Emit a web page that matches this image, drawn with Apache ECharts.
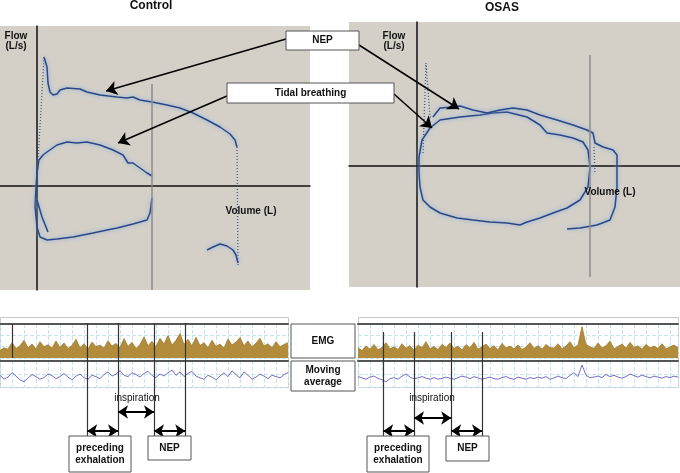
<!DOCTYPE html>
<html>
<head>
<meta charset="utf-8">
<script src="https://cdn.jsdelivr.net/npm/echarts@6/dist/echarts.min.js"></script>
<style>html,body{margin:0;background:#fff}#main{width:680px;height:473px}</style>
</head>
<body>
<div id="main"></div>
<script>
// flow-volume loops, points are [volume (L), flow (L/s)]
var controlTidalTop = [[-0.01,-0.01],[0,0.13],[0.02,0.26],[0.06,0.31],[0.10,0.34],[0.20,0.41],[0.30,0.44],[0.40,0.43],[0.50,0.44],[0.63,0.41],[0.76,0.36],[0.86,0.31],[0.91,0.23],[0.96,0.23],[1.03,0.18],[1.10,0.13],[1.15,0.10]];
var controlTidalBottom = [[1.15,-0.12],[1.13,-0.27],[1.10,-0.34],[0.96,-0.38],[0.80,-0.42],[0.70,-0.44],[0.56,-0.47],[0.36,-0.51],[0.20,-0.53],[0.10,-0.54],[0.03,-0.51],[0,-0.41],[-0.02,-0.21],[-0.01,-0.01]];
var controlExpTail = [[0,-0.14],[0.05,-0.31],[0.11,-0.46]];
var controlNep = [[0.07,1.29],[0.10,1.19],[0.11,1.03],[0.13,0.94],[0.16,0.91],[0.20,0.92],[0.23,0.96],[0.30,0.98],[0.43,0.97],[0.50,0.94],[0.63,0.91],[0.80,0.89],[0.90,0.88],[0.96,0.89],[1.03,0.86],[1.15,0.84],[1.30,0.81],[1.43,0.78],[1.56,0.73],[1.70,0.66],[1.83,0.59],[1.93,0.52],[1.98,0.46],[2.00,0.39]];
var controlNepRise = [[0.01,0.26],[0.04,0.76],[0.07,1.29]];
var controlNepFall = [[2.00,0.39],[2.01,-0.80]];
var controlNepEnd = [[1.70,-0.64],[1.76,-0.61],[1.83,-0.58],[1.90,-0.60],[1.96,-0.64],[1.99,-0.69],[2.01,-0.77]];
var controlTidalEnd = 1.15;

var osasTidal = [[0.02,0.09],[0.05,0.26],[0.13,0.38],[0.23,0.46],[0.43,0.49],[0.63,0.51],[0.76,0.53],[0.90,0.54],[1.10,0.49],[1.23,0.41],[1.30,0.33],[1.43,0.31],[1.56,0.28],[1.66,0.24],[1.71,0.16],[1.73,-0.01],[1.71,-0.21],[1.63,-0.34],[1.50,-0.42],[1.36,-0.47],[1.23,-0.52],[1.10,-0.56],[1.03,-0.59],[0.90,-0.57],[0.73,-0.56],[0.56,-0.54],[0.40,-0.52],[0.23,-0.47],[0.13,-0.41],[0.06,-0.34],[0.03,-0.21],[0.02,-0.07],[0.02,0.09]];
var osasNep = [[0.16,0.49],[0.23,0.58],[0.36,0.59],[0.43,0.60],[0.56,0.56],[0.70,0.53],[0.83,0.56],[0.96,0.58],[1.10,0.56],[1.23,0.51],[1.40,0.46],[1.56,0.41],[1.70,0.36],[1.76,0.33],[1.78,0.23],[1.86,0.19],[1.96,0.16],[2.00,0.11],[2.00,-0.01],[2.00,-0.21],[1.98,-0.41],[1.93,-0.54],[1.80,-0.59],[1.63,-0.62],[1.50,-0.63]];
var osasNepRise = [[0.06,0.13],[0.09,1.03],[0.11,1.01],[0.13,0.49],[0.16,0.49]];
var osasNepDots = [[1.77,0.19],[1.78,-0.07]];
var osasTidalEnd = 1.73;

// EMG strips, one sample every 0.1 s
var sampleStep = 0.1;
var controlEmg = [
  0.22,0.30,0.26,0.45,0.28,0.36,0.52,0.30,0.41,0.27,
  0.48,0.33,0.39,0.29,0.50,0.31,0.44,0.28,0.37,0.55,
  0.30,0.42,0.26,0.47,0.33,0.38,0.29,0.51,0.35,0.43,
  0.30,0.57,0.34,0.46,0.28,0.40,0.62,0.36,0.49,0.33,
  0.58,0.41,0.66,0.38,0.52,0.72,0.40,0.55,0.35,0.61,
  0.37,0.45,0.30,0.52,0.34,0.41,0.29,0.56,0.38,0.47,
  0.60,0.36,0.50,0.32,0.44,0.58,0.35,0.42,0.30,0.48,
  0.33,0.40,0.45];
var controlAvg = [
  0.45,0.30,0.38,0.55,0.42,0.28,0.20,0.35,0.48,0.40,
  0.30,0.36,0.50,0.44,0.32,0.40,0.52,0.38,0.28,0.42,
  0.50,0.36,0.30,0.45,0.40,0.32,0.48,0.58,0.42,0.50,
  0.62,0.45,0.40,0.55,0.48,0.38,0.52,0.60,0.44,0.36,
  0.50,0.42,0.55,0.65,0.45,0.58,0.40,0.52,0.60,0.42,
  0.35,0.30,0.45,0.38,0.28,0.42,0.55,0.40,0.62,0.48,
  0.35,0.58,0.45,0.30,0.38,0.50,0.42,0.32,0.45,0.40,
  0.35,0.48,0.55];
var osasEmg = [
  0.30,0.22,0.35,0.26,0.40,0.24,0.31,0.45,0.27,0.33,
  0.25,0.42,0.29,0.36,0.23,0.38,0.30,0.48,0.27,0.34,
  0.25,0.40,0.31,0.44,0.28,0.35,0.24,0.39,0.30,0.46,
  0.26,0.33,0.41,0.28,0.36,0.24,0.43,0.30,0.35,0.27,
  0.38,0.25,0.32,0.45,0.28,0.36,0.26,0.40,0.31,0.29,
  0.42,0.27,0.35,0.48,0.30,0.38,0.92,0.40,0.33,0.28,
  0.44,0.30,0.36,0.50,0.27,0.34,0.41,0.29,0.46,0.31,
  0.36,0.26,0.40,0.30,0.35,0.28,0.42,0.27,0.33,0.38,
  0.30];
var osasAvg = [
  0.40,0.35,0.30,0.38,0.42,0.33,0.28,0.20,0.32,0.36,
  0.30,0.42,0.50,0.38,0.32,0.35,0.40,0.34,0.30,0.36,
  0.30,0.33,0.38,0.34,0.30,0.36,0.42,0.38,0.32,0.40,
  0.35,0.30,0.34,0.38,0.32,0.30,0.36,0.40,0.33,0.30,
  0.38,0.34,0.30,0.36,0.32,0.38,0.34,0.40,0.30,0.35,
  0.42,0.36,0.32,0.45,0.55,0.40,0.85,0.45,0.36,0.38,
  0.42,0.36,0.48,0.40,0.45,0.38,0.34,0.40,0.50,0.44,
  0.38,0.46,0.40,0.35,0.42,0.38,0.34,0.40,0.36,0.42,
  0.38];

// event times (s): start exhalation, start inspiration, start NEP, end NEP
var controlEvents = [2.18, 2.95, 3.85, 4.63];
var controlMarker = 0.3;
var osasEvents = [0.63, 1.4, 2.33, 3.1];

var chart = echarts.init(document.getElementById('main'));
var FONT = '"Liberation Sans", Arial, sans-serif';
var GRIDC = '#c6e4ec';

function toXY(arr) {
  return arr.map(function (v, i) { return [i * sampleStep, v]; });
}

function loopAxis(gi, min, max) {
  return {
    gridIndex: gi, type: 'value', min: min, max: max,
    axisLine: { onZero: true, lineStyle: { color: '#111', width: 1.5 } },
    axisTick: { show: false }, axisLabel: { show: false }, splitLine: { show: false }
  };
}
function stripX(gi, max, lineShow) {
  return {
    gridIndex: gi, type: 'value', min: 0, max: max, interval: 0.3, position: 'top',
    axisLine: { show: lineShow, onZero: false, lineStyle: { color: '#555', width: 2 } },
    axisTick: { show: false }, axisLabel: { show: false },
    splitLine: { show: true, lineStyle: { color: GRIDC, type: 'dashed', width: 1 } }
  };
}
function stripY(gi, interval) {
  return {
    gridIndex: gi, type: 'value', min: 0, max: 1, interval: interval,
    axisLine: { show: false }, axisTick: { show: false }, axisLabel: { show: false },
    splitLine: { show: true, lineStyle: { color: GRIDC, type: 'dashed', width: 1 } }
  };
}
function hidden(gi, min, max, inverse) {
  return { gridIndex: gi, type: 'value', min: min, max: max, inverse: !!inverse, show: false };
}

function loopLine(gi, data, dotted) {
  return {
    type: 'line', xAxisIndex: gi, yAxisIndex: gi, data: data, symbol: 'none', silent: true, z: 3,
    lineStyle: dotted
      ? { color: '#3d5a90', width: 1.3, type: [1, 2] }
      : { color: '#2a4888', width: 1.5, shadowColor: '#7fa9dc', shadowBlur: 4 }
  };
}
function grayMark(x, top, bottom) {
  return {
    silent: true, symbol: 'none', label: { show: false },
    lineStyle: { color: '#8c8c8c', width: 1.5, type: 'solid' },
    data: [[{ coord: [x, top] }, { coord: [x, bottom] }]]
  };
}

function eventLines(gi, events) {
  return {
    type: 'line', xAxisIndex: gi, yAxisIndex: gi, data: [], z: 6,
    markLine: {
      silent: true, symbol: 'none', label: { show: false },
      lineStyle: { color: '#333', width: 1.2, type: 'solid' },
      data: events.map(function (t) { return { xAxis: t }; })
    }
  };
}
function phaseArrows(gi, events, yInsp, yOther) {
  return {
    type: 'line', xAxisIndex: gi, yAxisIndex: gi, data: [], z: 7,
    markLine: {
      silent: true, symbol: ['arrow', 'arrow'], symbolSize: 10, label: { show: false },
      lineStyle: { color: '#000', width: 2, type: 'solid' },
      data: [
        [{ coord: [events[0], yOther] }, { coord: [events[1], yOther] }],
        [{ coord: [events[1], yInsp] }, { coord: [events[2], yInsp] }],
        [{ coord: [events[2], yOther] }, { coord: [events[3], yOther] }]
      ]
    }
  };
}

function box(x, y, w, h, text) {
  return [
    { type: 'rect', z: 100, shape: { x: x, y: y, width: w, height: h },
      style: { fill: '#fff', stroke: '#555', lineWidth: 1 } },
    { type: 'text', z: 101, x: x + w / 2, y: y + h / 2,
      style: { text: text, textAlign: 'center', textVerticalAlign: 'middle', fill: '#111',
        fontSize: 10, fontWeight: 'bold', fontFamily: FONT, lineHeight: 12 } }
  ];
}
function label(x, y, text, size, weight) {
  return { type: 'text', z: 101, x: x, y: y,
    style: { text: text, textAlign: 'center', textVerticalAlign: 'middle', fill: '#111',
      fontSize: size, fontWeight: weight, fontFamily: FONT, lineHeight: 10 } };
}

var graphics = [
  { type: 'rect', z: -1, shape: { x: 0.5, y: 317.5, width: 288, height: 70 }, style: { fill: 'none', stroke: '#c8c8c8', lineWidth: 1 } },
  { type: 'rect', z: -1, shape: { x: 358.5, y: 317.5, width: 320, height: 70 }, style: { fill: 'none', stroke: '#c8c8c8', lineWidth: 1 } },
  label(151, 6, 'Control', 12, 'bold'),
  label(502, 8, 'OSAS', 12, 'bold'),
  label(16, 41, 'Flow\n(L/s)', 10, 'bold'),
  label(394, 41, 'Flow\n(L/s)', 10, 'bold'),
  label(251, 211, 'Volume (L)', 10, 'bold'),
  label(610, 192, 'Volume (L)', 10, 'bold'),
  label(137, 398, 'inspiration', 10, 'normal'),
  label(432, 398, 'inspiration', 10, 'normal')
]
  .concat(box(286, 31, 73, 19, 'NEP'))
  .concat(box(227, 83, 167, 20, 'Tidal breathing'))
  .concat(box(291, 324, 64, 34, 'EMG'))
  .concat(box(291, 361, 64, 30, 'Moving\naverage'))
  .concat(box(69, 436, 62, 36, 'preceding\nexhalation'))
  .concat(box(148, 436, 43, 24, 'NEP'))
  .concat(box(367, 436, 62, 36, 'preceding\nexhalation'))
  .concat(box(446, 436, 43, 25, 'NEP'));

var option = {
  animation: false,
  backgroundColor: '#ffffff',
  grid: [
    { left: 0, top: 26, width: 310, height: 264, show: true, backgroundColor: '#d4d0c8', borderWidth: 0 },
    { left: 349, top: 22, width: 331, height: 265, show: true, backgroundColor: '#d4d0c8', borderWidth: 0 },
    { left: 0, top: 324, width: 288, height: 34 },
    { left: 0, top: 361, width: 288, height: 26 },
    { left: 358, top: 324, width: 320, height: 34 },
    { left: 358, top: 361, width: 320, height: 26 },
    { left: 0, top: 323, width: 288, height: 113 },
    { left: 358, top: 332, width: 320, height: 104 },
    { left: 0, top: 0, width: 680, height: 473 }
  ],
  xAxis: [
    loopAxis(0, -0.37, 2.73), loopAxis(1, -0.68, 2.63),
    stripX(2, 7.2, true), stripX(3, 7.2, true), stripX(4, 8.0, true), stripX(5, 8.0, true),
    hidden(6, 0, 7.2), hidden(7, 0, 8.0), hidden(8, 0, 680)
  ],
  yAxis: [
    loopAxis(0, -1.04, 1.60), loopAxis(1, -1.21, 1.44),
    stripY(2, 0.3333), stripY(3, 0.5), stripY(4, 0.3333), stripY(5, 0.5),
    hidden(6, 0, 113, true), hidden(7, 0, 104, true), hidden(8, 0, 473, true)
  ],
  graphic: graphics,
  series: [
    Object.assign(loopLine(0, controlTidalTop), { markLine: grayMark(controlTidalEnd, 1.02, -1.04) }),
    loopLine(0, controlTidalBottom),
    loopLine(0, controlExpTail),
    loopLine(0, controlNep),
    loopLine(0, controlNepRise, true),
    loopLine(0, controlNepFall, true),
    loopLine(0, controlNepEnd),
    Object.assign(loopLine(1, osasTidal), { markLine: grayMark(osasTidalEnd, 1.11, -1.11) }),
    loopLine(1, osasNep),
    loopLine(1, osasNepRise, true),
    loopLine(1, osasNepDots, true),
    {
      type: 'line', xAxisIndex: 2, yAxisIndex: 2, data: toXY(controlEmg), symbol: 'none', silent: true,
      lineStyle: { color: '#a07c30', width: 0.8 }, areaStyle: { color: '#b28b3b', opacity: 1, origin: 'start' },
      markLine: { silent: true, symbol: 'none', label: { show: false },
        lineStyle: { color: '#333', width: 1.2, type: 'solid' }, data: [{ xAxis: controlMarker }] }
    },
    { type: 'line', xAxisIndex: 3, yAxisIndex: 3, data: toXY(controlAvg), symbol: 'none', silent: true,
      lineStyle: { color: '#7a6ec4', width: 1 } },
    { type: 'line', xAxisIndex: 4, yAxisIndex: 4, data: toXY(osasEmg), symbol: 'none', silent: true,
      lineStyle: { color: '#a07c30', width: 0.8 }, areaStyle: { color: '#b28b3b', opacity: 1, origin: 'start' } },
    { type: 'line', xAxisIndex: 5, yAxisIndex: 5, data: toXY(osasAvg), symbol: 'none', silent: true,
      lineStyle: { color: '#7a6ec4', width: 1 } },
    eventLines(6, controlEvents),
    eventLines(7, osasEvents),
    phaseArrows(6, controlEvents, 89, 108),
    phaseArrows(7, osasEvents, 86, 99),
    {
      type: 'lines', coordinateSystem: 'cartesian2d', xAxisIndex: 8, yAxisIndex: 8, z: 10, silent: true,
      symbol: ['none', 'arrow'], symbolSize: 11,
      lineStyle: { color: '#000', width: 1.5, opacity: 1, curveness: 0 },
      data: [
        { coords: [[286, 39], [106, 91]] },
        { coords: [[359, 45], [459, 109]] },
        { coords: [[227, 96], [118, 143]] },
        { coords: [[394, 94], [432, 128]] }
      ]
    }
  ]
};
chart.setOption(option);
</script>
</body>
</html>
